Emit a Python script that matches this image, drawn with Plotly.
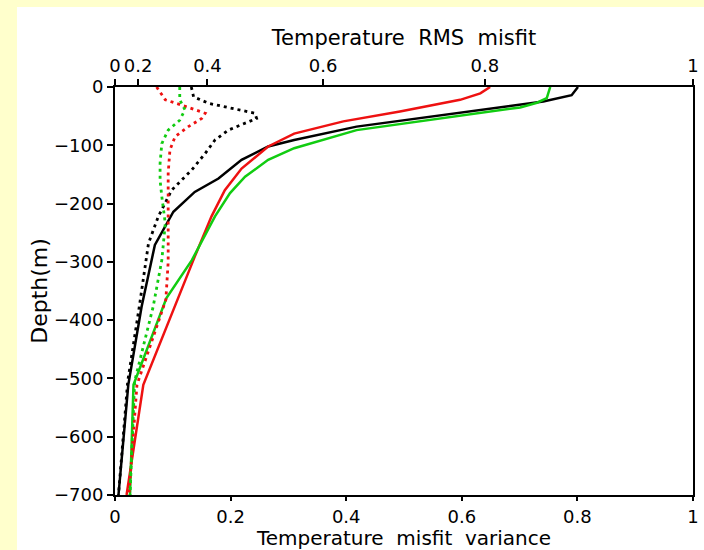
"""
Perfiles de error de temperatura frente a la profundidad.
"""

import plotly.graph_objects as go

COLOR_AMARILLO = "#ffffcc"
COLOR_NEGRO = "#000000"
COLOR_ROJO = "#ee1111"
COLOR_VERDE = "#11cc11"

FUENTE = "DejaVu Sans, Arial, sans-serif"

# --- datos (x en unidades de varianza) ---
PROF_NEGRO = [0, -14, -25, -68, -91, -102, -125, -157, -180, -214, -271, -377, -511, -700]
VAR_NEGRO = [0.801, 0.790, 0.741, 0.418, 0.310, 0.265, 0.219, 0.179, 0.138, 0.101, 0.069, 0.046, 0.023, 0.006]

PROF_ROJO = [0, -11, -22, -42, -59, -80, -102, -140, -177, -222, -291, -383, -511, -700]
VAR_ROJO = [0.649, 0.632, 0.597, 0.493, 0.395, 0.310, 0.265, 0.219, 0.190, 0.167, 0.138, 0.101, 0.049, 0.020]

PROF_VERDE = [0, -19, -27, -35, -74, -105, -125, -154, -182, -222, -297, -362, -511, -700]
VAR_VERDE = [0.753, 0.747, 0.730, 0.701, 0.418, 0.310, 0.265, 0.225, 0.199, 0.173, 0.133, 0.089, 0.032, 0.026]

PROF_NEGRO_PUNT = [0, -17, -28, -45, -54, -74, -91, -114, -142, -177, -222, -268, -377, -505, -700]
VAR_NEGRO_PUNT = [0.132, 0.136, 0.162, 0.242, 0.245, 0.196, 0.173, 0.156, 0.133, 0.098, 0.075, 0.058, 0.042, 0.022, 0.006]

PROF_ROJO_PUNT = [0, -22, -31, -45, -54, -68, -85, -108, -148, -200, -300, -365, -511, -700]
VAR_ROJO_PUNT = [0.072, 0.087, 0.115, 0.156, 0.150, 0.127, 0.104, 0.095, 0.092, 0.092, 0.092, 0.088, 0.038, 0.024]

PROF_VERDE_PUNT = [0, -22, -39, -57, -74, -97, -131, -160, -188, -234, -297, -377, -505, -700]
VAR_VERDE_PUNT = [0.112, 0.112, 0.121, 0.112, 0.092, 0.081, 0.078, 0.078, 0.081, 0.087, 0.081, 0.066, 0.034, 0.026]

# eje superior: RMS = raiz de la varianza
TICKS_RMS = [0, 0.2, 0.4, 0.6, 0.8, 1]
TEXTO_RMS = ["0", "0.2", "0.4", "0.6", "0.8", "1"]

fig = go.Figure()

solidas = [
    (VAR_NEGRO, PROF_NEGRO, COLOR_NEGRO),
    (VAR_ROJO, PROF_ROJO, COLOR_ROJO),
    (VAR_VERDE, PROF_VERDE, COLOR_VERDE),
]
for xs, ys, color in solidas:
    fig.add_trace(
        go.Scatter(
            x=xs, y=ys, mode="lines",
            line=dict(color=color, width=2.5),
            showlegend=False,
        )
    )

punteadas = [
    (VAR_NEGRO_PUNT, PROF_NEGRO_PUNT, COLOR_NEGRO),
    (VAR_ROJO_PUNT, PROF_ROJO_PUNT, COLOR_ROJO),
    (VAR_VERDE_PUNT, PROF_VERDE_PUNT, COLOR_VERDE),
]
for xs, ys, color in punteadas:
    fig.add_trace(
        go.Scatter(
            x=xs, y=ys, mode="lines", xaxis="x2",
            line=dict(color=color, width=2.8, dash="3px,4px"),
            showlegend=False,
        )
    )

eje_comun = dict(
    showline=True,
    linecolor=COLOR_NEGRO,
    linewidth=2,
    ticks="outside",
    ticklen=6,
    tickwidth=2,
    tickcolor=COLOR_NEGRO,
    showgrid=False,
    zeroline=False,
    automargin=False,
    tickfont=dict(size=18, color=COLOR_NEGRO, family=FUENTE),
)

fig.update_layout(
    width=704,
    height=550,
    paper_bgcolor=COLOR_AMARILLO,
    plot_bgcolor="#ffffff",
    margin=dict(l=115, r=11, t=87, b=55),
    font=dict(family=FUENTE, color=COLOR_NEGRO),
    xaxis=dict(
        **{**eje_comun, "ticklen": 4},
        range=[0, 1],
        tickvals=[0, 0.2, 0.4, 0.6, 0.8, 1],
        ticktext=["0", "0.2", "0.4", "0.6", "0.8", "1"],
        title=dict(text="Temperature  misfit  variance", font=dict(size=20), standoff=8),
    ),
    xaxis2=dict(
        **eje_comun,
        overlaying="x",
        side="top",
        anchor="y",
        range=[0, 1],
        tickvals=[t ** 2 for t in TICKS_RMS],
        ticktext=TEXTO_RMS,
        title=dict(text="Temperature  RMS  misfit", font=dict(size=21), standoff=3),
    ),
    yaxis=dict(
        **eje_comun,
        mirror=True,
        range=[-700, 0],
        dtick=100,
        title=dict(text="Depth(m)", font=dict(size=22), standoff=0),
    ),
    shapes=[
        dict(
            type="rect", xref="paper", yref="paper",
            x0=-0.1696, x1=1.1, y0=-0.3, y1=1.196,
            fillcolor="#ffffff", line=dict(width=0), layer="below",
        )
    ],
)

# quitar el margen por defecto del body para que la figura llene la ventana
fig.write_html(
    "out.html",
    config={"displayModeBar": False},
    post_script="document.body.style.margin='0';",
)
